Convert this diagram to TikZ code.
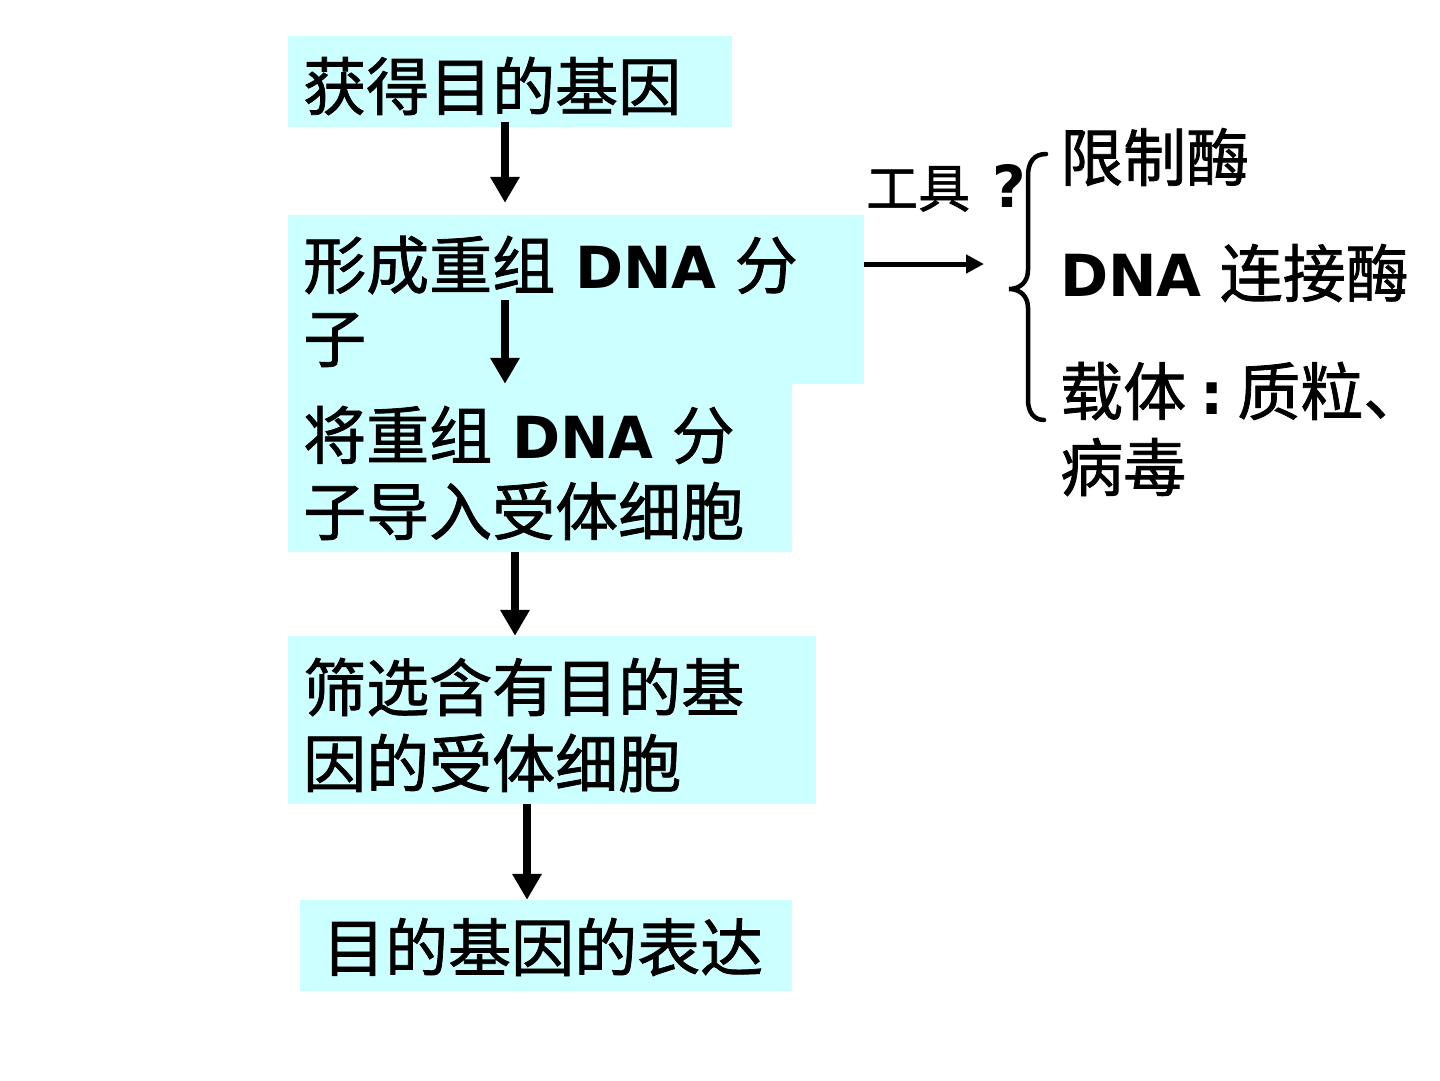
\documentclass[tikz,border=0pt]{standalone}
\usepackage{fontspec}
\setmainfont{DejaVu Sans}
\newfontfamily\cjk{Noto Sans CJK SC}[FakeBold=1.2]
\newfontfamily\latf{DejaVu Sans}
\usetikzlibrary{arrows.meta}
\definecolor{boxcyan}{HTML}{CCFFFF}
\newcommand\Lat[1]{{\latf\bfseries\fontsize{58}{62}\selectfont #1}}
\tikzset{
  box/.style={fill=boxcyan, draw=none, rectangle, inner sep=0pt},
  txt/.style={anchor=west, inner sep=0pt, font=\cjk\fontsize{63}{70}\selectfont},
  small/.style={anchor=west, inner sep=0pt, font=\cjk\fontsize{52}{60}\selectfont},
  flow/.style={line width=8pt, -{Triangle[width=28pt,length=26pt]}},
  side/.style={line width=5pt, -{Triangle[width=18pt,length=18pt]}},
  brace/.style={line width=4.5pt, line cap=round}
}
\begin{document}
\begin{tikzpicture}[x=1pt,y=-1pt]
\useasboundingbox (0,0) rectangle (1440,1080);
% boxes
\node[box, minimum width=444pt, minimum height=91pt] (b1) at (510,81.5) {};
\node[box, minimum width=576pt, minimum height=169pt] (b2) at (576,299.5) {};
\node[box, minimum width=504pt, minimum height=168pt] (b3) at (540,468) {};
\node[box, minimum width=528pt, minimum height=168pt] (b4) at (552,720) {};
\node[box, minimum width=492pt, minimum height=91pt] (b5) at (546,945.5) {};
% texts
\node[txt] (t1) at (303,86) {获得目的基因};
\node[txt] (t2a) at (303,265) {形成重组\hspace{20pt}\Lat{DNA}\hspace{18pt}分};
\node[txt] (t2b) at (303,340) {子};
\node[txt] (t3a) at (303,435) {将重组\hspace{20pt}\Lat{DNA}\hspace{18pt}分};
\node[txt] (t3b) at (303,511) {子导入受体细胞};
\node[txt] (t4a) at (303,687) {筛选含有目的基};
\node[txt] (t4b) at (303,763) {因的受体细胞};
\node[txt] (t5) at (322,947) {目的基因的表达};
\node[small] (tool) at (866,188) {工具\hspace{22pt}\Lat{?}};
\node[txt] (r1) at (1060,157) {限制酶};
\node[txt] (r2) at (1060,273) {\Lat{DNA}\hspace{18pt}连接酶};
\node[txt] (r3) at (1060,391) {载体\hspace{14pt}\Lat{:}\hspace{14pt}质粒、};
\node[txt] (r4) at (1060,467) {病毒};
% arrows
\coordinate (a2s) at (505,300);
\coordinate (tip) at (984,264);
\draw[flow] ([yshift=5pt]b1.south -| a2s) -- ([yshift=12pt]b2.north -| a2s);
\draw[flow] (a2s) -- (b3.north -| a2s);
\draw[flow] ([xshift=-25pt]b3.south) -- ([xshift=-25pt]b3.south |- b4.north);
\draw[flow] ([xshift=-25pt]b4.south) -- ([xshift=-25pt]b4.south |- b5.north);
\draw[side] (b2.east |- tip) -- (tip);
% brace
\draw[brace] (1046,154) .. controls (1034,154) and (1028,162) .. (1028,176) -- (1028,270)
  .. controls (1028,282) and (1020,289) .. (1009,289)
  .. controls (1020,289) and (1028,296) .. (1028,308) -- (1028,400)
  .. controls (1028,412) and (1034,420) .. (1044,420);
\end{tikzpicture}
\end{document}
